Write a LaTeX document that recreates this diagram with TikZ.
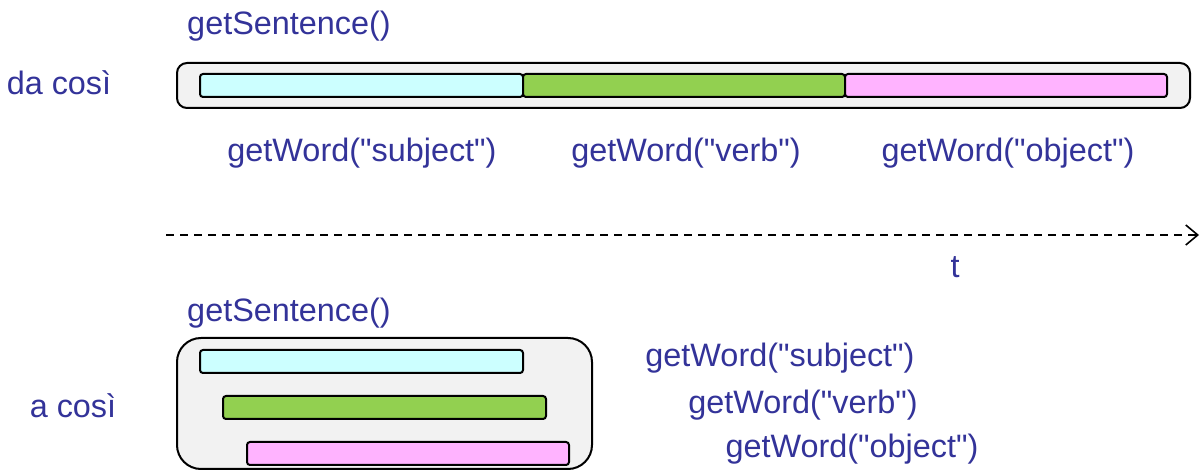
\documentclass[tikz,border=0pt]{standalone}
\usepackage{fontspec}
\setmainfont{Liberation Sans}[Ligatures=TeXOff]
\usetikzlibrary{arrows.meta}
\definecolor{txt}{HTML}{333399}
\definecolor{bgbox}{HTML}{F2F2F2}
\definecolor{cy}{HTML}{CCFFFF}
\definecolor{gr}{HTML}{92D050}
\definecolor{pk}{HTML}{FFB3FF}
\begin{document}
\begin{tikzpicture}[x=0.5pt,y=-0.5pt,
  lbl/.style={text=txt,inner sep=0pt,font=\fontsize{16.2}{19}\selectfont},
  outer/.style={draw=black,fill=bgbox,line width=1pt,rounded corners=5pt},
  bar/.style={draw=black,line width=1pt,rounded corners=1.5pt}]
\useasboundingbox (0,0) rectangle (1201,470);
% top
\node[lbl] (s1) at (289,26) {getSentence()};
\node[lbl] (d1) at (59,83) {da così};
\draw[outer] (177,63) rectangle (1190,108);
\draw[bar,fill=cy] (200,74) rectangle (523,97);
\draw[bar,fill=gr] (523,74) rectangle (845,97);
\draw[bar,fill=pk] (845,74) rectangle (1167,97);
\node[lbl] (w1) at (362,153) {getWord("subject")};
\node[lbl] (w2) at (686,153) {getWord("verb")};
\node[lbl] (w3) at (1008,153) {getWord("object")};
% time axis
\coordinate (ta) at (166,235);
\coordinate (tb) at (1199,235);
\draw[line width=0.8pt,dash pattern=on 4pt off 3pt,-{Straight Barb[length=6pt,width=10pt,line width=0.8pt]}] (ta) -- (tb);
\node[lbl] (t) at (955,267) {t};
% bottom
\node[lbl] (s2) at (289,313) {getSentence()};
\node[lbl] (d2) at (73,406) {a così};
\draw[outer,rounded corners=12pt] (177,338) rectangle (592,469);
\draw[bar,fill=cy] (200,350) rectangle (523,373);
\draw[bar,fill=gr] (223,396) rectangle (546,419);
\draw[bar,fill=pk] (247,442) rectangle (569,465);
\node[lbl] (v1) at (780,358) {getWord("subject")};
\node[lbl] (v2) at (803,405) {getWord("verb")};
\node[lbl] (v3) at (852,449) {getWord("object")};
\end{tikzpicture}
\end{document}
